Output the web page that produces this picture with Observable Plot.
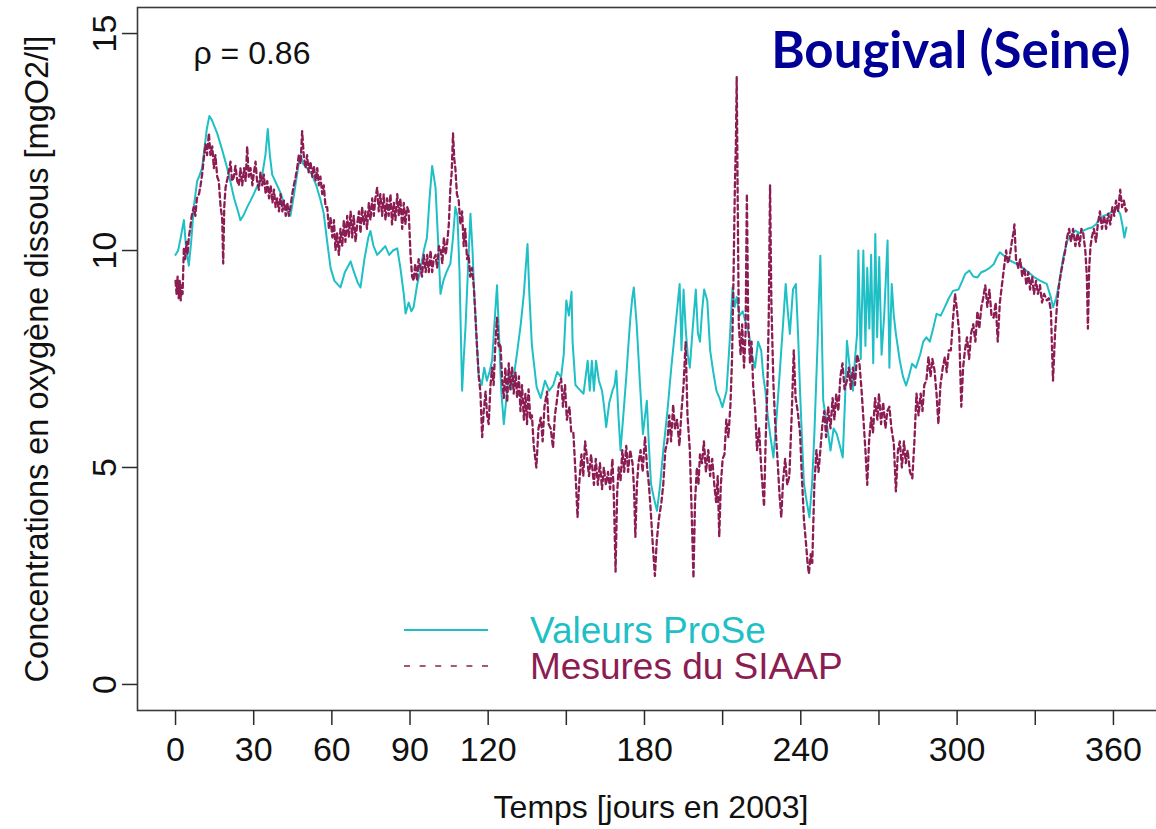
<!DOCTYPE html>
<html>
<head>
<meta charset="utf-8">
<script src="https://cdn.jsdelivr.net/npm/d3@7"></script>
<script src="https://cdn.jsdelivr.net/npm/@observablehq/plot@0.6"></script>
<style>
  html, body { margin: 0; padding: 0; background: #fff; overflow: hidden; }
  #wrap { position: relative; width: 1156px; height: 829px; overflow: hidden; background: #fff; }
  #wrap svg { display: block; max-width: none !important; }
  #legend { position: absolute; left: 0; top: 0; pointer-events: none; }
</style>
</head>
<body>
<div id="wrap"></div>
<script>
// ---------------- DATA ----------------
const xTicks = [0, 30, 60, 90, 120, 150, 180, 210, 240, 270, 300, 330, 360];
const xTickLabels = [0, 30, 60, 90, 120, 180, 240, 300, 360];
const yTicks = [0, 5, 10, 15];

const xLabel = "Temps [jours en 2003]";
const yLabel = "Concentrations en oxygène dissous [mgO2/l]";
const titleText = "Bougival (Seine)";
const rhoText = "ρ = 0.86";
const seriesNames = ["Valeurs ProSe", "Mesures du SIAAP"];
const seriesColors = ["#1fbfc6", "#8c1d52"];

// Valeurs ProSe (simulated): [day, mgO2/l]
const proseSeries = [[0,9.9],[1,10.0],[2,10.3],[3.2,10.7],[4,10.1],[5.1,9.65],[6,10.2],[7,11.0],[8.3,11.6],[9,11.7],[10.2,11.9],[11,12.3],[12,12.8],[13,13.1],[14,13.0],[16,12.7],[18,12.3],[19.8,11.9],[21,11.6],[22.5,11.2],[24,10.9],[24.9,10.7],[26,10.8],[27.5,11.0],[28.8,11.15],[30,11.3],[31.5,11.5],[33.3,11.75],[34.5,12.2],[35.4,12.8],[36.2,12.2],[37.1,11.75],[39,11.5],[40.5,11.3],[42,11.0],[44.1,10.8],[45.5,11.3],[47,11.9],[48,12.2],[49,12.0],[50.5,11.9],[52.4,11.75],[54,11.5],[55.5,11.2],[56.9,10.85],[58,10.3],[59.5,9.6],[61,9.3],[63.3,9.15],[65,9.5],[67.2,9.75],[68.5,9.5],[70,9.25],[71,9.15],[72.5,9.8],[74,10.3],[74.8,10.45],[76,10.1],[77.4,9.9],[79,10.0],[80.5,10.1],[82,9.9],[83.5,10.0],[85.1,10.05],[86.3,9.6],[87.6,9.0],[88.3,8.55],[89.5,8.8],[90.5,8.6],[91.4,8.7],[92.7,9.2],[93.8,9.5],[95.3,10.0],[96.5,10.3],[97.5,11.2],[98.5,11.95],[99.8,11.45],[100.8,10.2],[101.7,9.0],[102.8,9.3],[104,9.5],[105.5,9.7],[106.5,10.3],[107.4,11.0],[108.2,10.8],[109,9.5],[110,6.77],[110.7,7.6],[111.3,8.23],[112.2,9.5],[113.2,10.85],[114,10.0],[114.5,9.2],[115.5,8.0],[116.4,7.08],[117.5,6.9],[118.5,7.3],[119.5,7.0],[120.5,7.2],[121.5,7.46],[122.5,8.4],[123.4,9.2],[124.2,8.0],[125,6.8],[126,6.0],[127,6.6],[128,7.2],[128.8,6.8],[129.8,7.08],[131,7.6],[132.5,8.3],[133.7,9.0],[134.4,9.6],[135.1,10.15],[135.8,9.0],[136.8,7.8],[138.6,6.85],[140.2,6.6],[141.8,7.0],[143.4,6.77],[145,6.9],[146.5,7.2],[148,7.08],[149,7.6],[150,8.85],[151,8.5],[152,9.05],[152.4,7.9],[153.5,6.9],[155,6.8],[156.6,6.7],[158.2,7.46],[159,6.77],[159.8,7.46],[160.6,6.77],[161.4,7.46],[162.5,7.0],[163.7,6.77],[164.5,6.4],[165.3,5.93],[166.5,6.5],[167.7,6.77],[168.5,6.9],[169.2,7.23],[170,6.2],[170.8,5.39],[172,6.3],[173,7.08],[173.8,7.8],[174.6,8.46],[175.3,8.9],[175.9,9.15],[177,8.3],[178.2,7.0],[179.4,5.77],[180.9,6.54],[181.7,5.5],[182.5,4.62],[183.6,4.3],[184.8,4.0],[186,4.6],[187.2,5.39],[188.8,6.3],[190.3,7.31],[191.8,8.2],[193.5,9.23],[194.2,7.7],[195,9.1],[195.8,8.2],[196.6,7.6],[197.4,7.3],[198.5,8.2],[199.7,9.1],[200.5,8.1],[201.3,7.9],[202.1,8.6],[202.9,9.1],[204.1,8.85],[205.2,7.7],[206.4,7.2],[207.6,6.77],[208.8,6.6],[209.9,6.39],[211.5,6.77],[212.7,7.9],[213.8,9.15],[214.6,8.7],[215.4,8.93],[216.5,8.5],[217.7,8.6],[219,8.3],[220.1,8.08],[221.2,7.6],[222.4,7.3],[223.6,7.9],[224.8,7.7],[225.6,7.1],[226.4,6.77],[227.3,6.2],[228.2,5.77],[229.5,5.23],[231,6.4],[232.5,7.7],[233.4,8.5],[234.2,9.23],[235,8.6],[235.8,8.08],[237,9.1],[238.1,9.23],[239,8.0],[239.7,6.77],[240.5,5.6],[241.2,4.62],[242.3,4.2],[243.3,3.85],[244.3,4.6],[245.2,5.77],[246.4,7.8],[247.5,9.88],[248.6,6.54],[250,6.0],[251.4,5.39],[252.6,5.9],[253.8,5.77],[255,5.5],[256.1,5.23],[257,6.6],[257.7,7.92],[258.8,7.3],[260,6.77],[260.8,7.5],[261.6,8.08],[262.1,10.0],[263,7.5],[264,10.0],[264.8,7.8],[265.5,9.6],[266.3,8.2],[267,9.9],[267.8,7.4],[268.6,10.38],[269.3,8.0],[270.1,9.85],[271,7.6],[272,8.5],[273.3,10.23],[274,7.3],[274.9,9.23],[275.7,8.5],[276.5,8.08],[278,7.46],[279.2,7.1],[280.4,6.89],[281.5,7.1],[282.7,7.39],[284.2,7.3],[285.9,7.62],[287,7.9],[288.2,8.0],[289.5,7.9],[290.8,8.2],[292.1,8.54],[293.7,8.5],[295.3,8.7],[296.8,8.9],[298.4,9.07],[300.5,9.1],[302,9.3],[303.1,9.46],[304.7,9.54],[306.2,9.4],[307.8,9.38],[309.3,9.5],[310.9,9.54],[312.5,9.6],[314.1,9.69],[315.3,9.85],[316.4,9.96],[318,9.88],[320.3,9.77],[322.6,9.7],[325,9.61],[327.4,9.5],[329.7,9.38],[332,9.3],[334.4,9.23],[336,8.92],[336.8,8.69],[338,8.9],[339.1,9.23],[340.7,9.84],[342.3,10.23],[343.8,10.35],[345.4,10.46],[347,10.4],[348.5,10.46],[350,10.5],[351.7,10.53],[353.3,10.6],[354.8,10.76],[356.4,10.8],[358,10.84],[359.6,10.9],[361.1,11.0],[362.6,10.84],[363.4,10.6],[364.2,10.3],[365,10.53]];

// Mesures du SIAAP (measured): [day, mgO2/l]
const siaapSeries = [[0,9.3],[0.4,9.0],[0.8,9.4],[1.2,8.9],[1.6,9.3],[2.0,8.85],[2.4,9.2],[2.7,9.0],[3.2,10.07],[3.7,9.8],[4.2,10.2],[4.6,9.9],[5.1,10.3],[5.6,10.5],[6.2,10.8],[7.0,11.0],[7.6,10.8],[8.2,11.2],[9.0,11.3],[9.6,11.5],[10.2,11.75],[10.8,12.1],[11.5,12.45],[12.1,12.2],[12.8,12.7],[13.4,12.2],[14.1,12.4],[14.7,11.9],[15.3,12.2],[16,11.7],[16.6,11.6],[17.3,11.0],[17.9,10.75],[18.3,9.7],[18.7,11.0],[19.2,11.45],[20.1,11.7],[21.1,12.05],[21.7,11.6],[22.4,11.7],[23,11.95],[23.7,11.6],[24.3,11.5],[24.9,11.9],[25.6,11.5],[26.3,11.9],[26.9,11.6],[27.5,12.4],[28.1,11.7],[28.8,11.9],[29.5,11.5],[30.1,11.8],[30.7,12.05],[31.3,11.6],[32,11.4],[32.6,11.8],[33.3,11.5],[33.9,11.75],[34.6,11.3],[35.2,11.6],[35.9,11.2],[36.5,11.5],[37.2,11.1],[37.8,11.4],[38.4,11.0],[39,11.2],[39.7,10.9],[40.3,11.3],[41,10.9],[41.6,11.15],[42.3,10.8],[42.9,11.1],[43.5,10.8],[44.1,11.0],[44.8,11.3],[45.4,11.5],[46.1,11.7],[46.7,11.9],[47.3,12.2],[48,12.0],[48.6,12.75],[49.2,12.2],[49.9,11.9],[50.5,12.2],[51.1,11.8],[51.8,12.05],[52.5,11.7],[53.1,11.95],[53.8,11.6],[54.4,11.9],[55,11.5],[55.6,11.7],[56.3,11.3],[56.9,11.5],[57.6,11.0],[58.2,11.0],[58.9,10.5],[59.5,10.75],[60.2,10.3],[60.8,10.7],[61.4,10.0],[62,10.4],[62.7,9.9],[63.3,10.5],[64,10.1],[64.6,10.7],[65.2,10.2],[65.9,10.8],[66.5,10.3],[67.2,10.9],[67.8,10.3],[68.4,10.8],[69.1,10.2],[69.7,10.6],[70.4,10.9],[71,10.4],[71.6,11.0],[72.3,10.6],[72.9,10.9],[73.5,10.5],[74.2,11.1],[74.8,10.7],[75.5,11.2],[76.1,10.8],[76.7,11.2],[77.4,11.45],[78,10.9],[78.6,11.3],[79.3,10.8],[79.9,11.3],[80.6,10.7],[81.2,11.2],[81.8,10.8],[82.5,11.3],[83.1,10.6],[83.8,11.1],[84.4,10.7],[85.1,11.3],[85.7,10.8],[86.3,11.2],[87,10.5],[87.6,11.1],[88.2,10.6],[88.9,11.0],[89.5,10.9],[90.2,9.9],[90.8,9.4],[91.4,9.3],[92,9.7],[92.7,9.3],[93.3,9.8],[94,9.6],[94.6,9.4],[95.3,9.9],[96,9.5],[96.6,9.9],[97.2,9.5],[97.9,10.0],[98.5,9.5],[99.1,9.8],[99.8,9.9],[100.4,9.6],[101.1,10.1],[101.7,10.05],[102.4,9.7],[103,10.3],[103.7,9.9],[104.3,10.2],[104.9,10.6],[105.5,11.45],[106,11.8],[106.5,12.7],[107,12.1],[107.4,11.9],[108,11.3],[108.7,11.15],[109.3,10.6],[110,10.9],[110.6,10.1],[111.2,10.5],[111.9,9.8],[112.5,9.9],[113.1,9.4],[113.8,9.6],[114.5,9.15],[115.1,8.5],[115.8,7.7],[116.4,7.1],[117,6.75],[117.7,5.7],[118.3,6.3],[119,6.75],[119.6,6.2],[120.2,6.0],[120.9,6.9],[121.5,7.3],[122.1,6.9],[122.8,7.9],[123.4,8.45],[124,7.8],[124.7,7.85],[125.4,7.0],[126,6.6],[126.6,7.3],[127.3,6.5],[127.9,7.4],[128.5,6.8],[129.2,7.3],[129.8,6.7],[130.5,7.2],[131.1,6.6],[131.8,7.1],[132.4,6.3],[133,6.9],[133.7,6.1],[134.3,6.7],[134.9,6.0],[135.5,6.8],[136.2,6.1],[136.8,6.2],[137.5,5.5],[138.5,5.0],[139.3,5.9],[140.2,6.15],[140.9,5.6],[141.6,6.4],[142.6,6.75],[143.2,6.0],[144,5.9],[144.9,5.45],[145.6,6.2],[146.3,6.5],[147.1,6.9],[148,7.05],[148.7,6.4],[149.5,6.9],[150.2,6.1],[151.2,6.4],[151.9,5.8],[152.7,5.8],[153.5,4.9],[154.3,3.85],[154.9,4.6],[155.8,5.3],[156.5,4.8],[157.2,5.6],[158,5.2],[158.7,4.8],[159.5,5.3],[160.6,4.6],[161.3,5.2],[162.1,4.6],[162.9,5.1],[163.7,4.5],[164.4,5.0],[165.2,4.6],[166,4.9],[166.8,4.5],[167.7,5.2],[168.3,4.2],[168.9,2.6],[169.5,4.4],[170.1,5.0],[170.8,4.7],[171.5,5.4],[172.2,4.9],[173,5.5],[173.7,4.9],[174.5,5.4],[175.4,5.1],[176,4.5],[176.5,3.4],[177.1,4.6],[177.7,5.1],[178.5,5.4],[179.3,4.9],[180.2,5.7],[181,5.0],[181.7,4.6],[182.4,4.0],[183.2,3.2],[184,2.5],[184.7,3.3],[185.5,3.8],[186.5,4.2],[187.2,4.6],[188,5.4],[188.8,5.6],[189.5,6.2],[190.2,5.6],[191,6.45],[191.7,5.9],[192.5,6.1],[193.4,5.5],[194.2,6.3],[195,6.9],[195.8,7.9],[196.5,6.2],[197.4,5.4],[198.1,4.0],[198.8,2.45],[199.4,4.2],[200.1,5.0],[200.7,4.6],[201.3,5.3],[202.1,5.1],[202.8,5.6],[203.6,4.9],[204.5,5.4],[205.2,4.8],[206,5.2],[206.8,4.6],[207.5,4.2],[208.1,4.8],[208.7,3.4],[209.3,4.6],[210,5.2],[210.7,5.3],[211.4,6.1],[212.2,5.7],[213,6.45],[213.6,7.5],[214.2,9.5],[214.7,11.5],[215.1,12.5],[215.4,14.0],[215.8,11.0],[216.2,8.3],[216.9,7.6],[217.5,8.3],[218.2,7.3],[218.8,8.1],[219.3,11.3],[219.8,8.4],[220.5,7.4],[221.1,7.9],[221.7,6.9],[222.5,6.3],[223.2,5.4],[224,5.9],[224.8,5.0],[225.4,4.5],[225.9,4.1],[226.5,5.6],[227.2,6.9],[227.7,8.5],[228.2,11.5],[228.7,8.8],[229.5,6.9],[230.2,6.0],[231,5.25],[231.8,4.4],[232.5,3.85],[233.2,4.7],[234,5.2],[234.8,4.6],[235.6,4.8],[236.5,6.2],[237.3,7.7],[238,6.6],[238.8,6.3],[239.7,5.8],[240.4,4.8],[241.2,3.8],[242,3.25],[242.6,2.8],[243.1,2.55],[243.8,3.0],[244.4,2.8],[245.2,4.6],[246,5.4],[246.8,4.9],[247.5,5.4],[248.3,6.0],[249,6.3],[249.7,5.7],[250.5,6.4],[251.4,5.9],[252.2,6.6],[252.9,6.1],[253.6,6.7],[254.4,6.3],[255.2,7.1],[256,7.4],[256.8,6.8],[257.7,7.0],[258.4,7.3],[259.2,6.8],[260,7.3],[260.8,6.9],[261.6,7.6],[262.5,7.4],[263.3,6.8],[264,6.15],[264.8,5.4],[265.5,4.6],[266.2,5.6],[267,6.15],[267.7,5.8],[268.5,6.6],[269.4,6.1],[270,6.7],[270.8,6.0],[271.6,6.5],[272.5,5.9],[273.2,6.3],[274,6.4],[274.8,5.9],[275.7,5.55],[276.5,4.45],[277.3,5.4],[278,5.6],[278.8,5.0],[279.6,5.6],[280.3,5.1],[281,5.4],[281.9,4.9],[282.8,4.75],[283.6,5.6],[284.4,6.7],[285.2,6.2],[286,6.7],[286.7,6.3],[287.4,6.9],[288.2,7.0],[289,7.55],[289.8,7.1],[290.5,7.5],[291.3,7.25],[292.1,6.7],[292.8,6.0],[293.6,6.9],[294.5,7.3],[295.3,7.55],[296,7.2],[296.8,7.7],[297.6,7.7],[298.4,8.4],[299.2,9.0],[300,8.6],[300.8,8.1],[301.6,6.4],[302.3,7.3],[303,7.7],[303.8,8.0],[304.6,7.5],[305.4,8.1],[306.2,8.3],[307,7.9],[307.8,8.6],[308.5,8.2],[309.3,8.7],[310,8.9],[310.8,9.2],[311.6,8.7],[312.4,9.1],[313.2,8.5],[314,8.45],[314.8,8.8],[315.6,7.9],[316.4,8.8],[317.2,9.2],[318,9.6],[318.8,10.0],[319.5,9.7],[320.3,9.9],[321,10.2],[321.6,10.4],[322,10.6],[322.6,9.8],[323.5,9.6],[324.2,9.8],[325,9.4],[325.8,9.6],[326.6,9.2],[327.3,9.5],[328,9.1],[328.8,9.4],[329.5,9.0],[330.3,9.3],[331,9.0],[331.8,9.2],[332.6,8.8],[333.4,9.0],[334.4,8.85],[335.2,8.9],[336,8.6],[336.8,7.0],[337.6,8.1],[338.4,8.8],[339.1,9.2],[339.9,9.5],[340.7,9.75],[341.5,10.0],[342.2,10.3],[343,10.5],[343.7,10.2],[344.5,10.5],[345.4,10.1],[346.2,10.4],[347,10.1],[347.7,10.5],[348.4,10.4],[349.2,10.0],[349.8,9.4],[350.2,8.2],[350.7,9.6],[351.2,10.1],[351.7,10.3],[352.5,10.5],[353.3,10.2],[354,10.6],[354.8,10.9],[355.6,10.5],[356.4,10.8],[357.2,10.5],[358,10.85],[358.8,10.6],[359.6,11.0],[360.3,10.8],[361,11.15],[361.8,10.9],[362.6,11.4],[363.3,11.0],[364,11.15],[364.8,10.9],[365.7,11.0]];

// ---------------- BUILD ----------------
const prose = proseSeries.map(([day, value]) => ({day, value}));
const siaap = siaapSeries.map(([day, value]) => ({day, value}));

const FONT = "'Liberation Sans', Arial, Helvetica, sans-serif";
const INK = "#2a2a2a";

const chart = Plot.plot({
  width: 1170,
  height: 829,
  marginLeft: 137,
  marginRight: 6,
  marginTop: 7,
  marginBottom: 119,
  x: {domain: [-14.6, 379.6]},
  y: {domain: [-0.6, 15.6]},
  style: {fontFamily: FONT, color: INK, background: "#fff", overflow: "visible", maxWidth: "none"},
  marks: [
    Plot.line(prose, {x: "day", y: "value", stroke: seriesColors[0], strokeWidth: 2}),
    Plot.line(siaap, {x: "day", y: "value", stroke: seriesColors[1], strokeWidth: 2.3, strokeDasharray: "5,3.5"}),
    Plot.frame({stroke: "#3a3a3a", strokeWidth: 1.6}),
    Plot.axisX({ticks: xTicks, tickSize: 15, tickPadding: 11, strokeWidth: 1.5,
      tickFormat: d => xTickLabels.includes(d) ? String(d) : "",
      fontSize: 34, label: null, fill: "#111"}),
    Plot.axisY({ticks: yTicks, tickSize: 15, strokeWidth: 1.5, tickFormat: () => "", label: null}),
    Plot.text(yTicks, {y: d => d, text: d => String(d), frameAnchor: "left", dx: -22,
      rotate: -90, lineAnchor: "bottom", textAnchor: "middle", fontSize: 34, fill: "#111"}),
    Plot.text([xLabel], {text: d => d, frameAnchor: "bottom", dy: 97, lineAnchor: "middle",
      fontSize: 32, fill: "#111"}),
    Plot.text([yLabel], {text: d => d, frameAnchor: "left", dx: -100, rotate: -90,
      lineAnchor: "middle", textAnchor: "middle", fontSize: 32.5, fill: "#111"}),
    Plot.text([rhoText], {text: d => d, frameAnchor: "top-left", dx: 56, dy: 56,
      lineAnchor: "bottom", textAnchor: "start", fontSize: 32, fill: "#111"}),
    Plot.text([titleText], {text: d => d, frameAnchor: "top-right", dx: -34, dy: 60,
      lineAnchor: "bottom", textAnchor: "end", fontSize: 51, fontWeight: "bold",
      fontFamily: "Lato, 'Open Sans', sans-serif", fill: "#000096"})
  ]
});

const wrap = document.getElementById("wrap");
wrap.appendChild(chart);

// Legend (overlay inside the plot area, as in the original)
const leg = d3.select(wrap).append("svg")
  .attr("id", "legend").attr("width", 1156).attr("height", 829);
const legX0 = 404, legX1 = 488, legTextX = 530, legY0 = 630, legStep = 36;
seriesNames.forEach((name, i) => {
  const y = legY0 + i * legStep;
  leg.append("line").attr("x1", legX0).attr("x2", legX1).attr("y1", y).attr("y2", y)
    .attr("stroke", seriesColors[i]).attr("stroke-width", i === 0 ? 2.2 : 1.4)
    .attr("stroke-dasharray", i === 0 ? null : "6,9.6");
  leg.append("text").attr("x", legTextX).attr("y", y).attr("dy", "0.35em")
    .attr("fill", seriesColors[i]).attr("font-family", FONT).attr("font-size", 37)
    .text(name);
});
</script>
</body>
</html>
